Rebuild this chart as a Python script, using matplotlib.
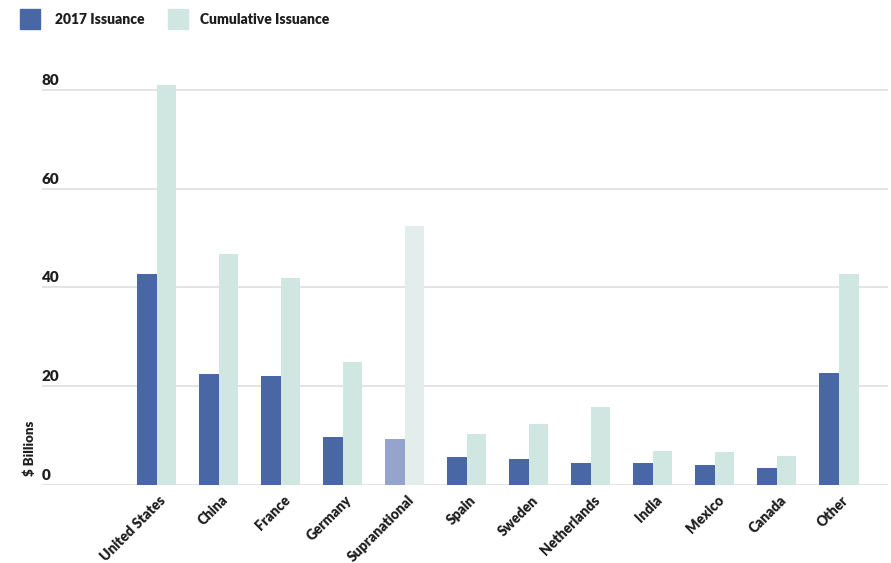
import numpy as np
import matplotlib
matplotlib.use('Agg')
import matplotlib.pyplot as plt
import matplotlib.transforms as mtransforms
from matplotlib.patches import Rectangle

plt.rcParams['font.family'] = ['Lato', 'DejaVu Sans']

# data ($ billions)
countries = ['United States', 'China', 'France', 'Germany', 'Supranational', 'Spain',
             'Sweden', 'Netherlands', 'India', 'Mexico', 'Canada', 'Other']
issuance_2017 = [42.7, 22.5, 22.0, 9.7, 9.3, 5.7, 5.3, 4.5, 4.5, 4.0, 3.4, 22.7]
cumulative = [81.0, 46.8, 41.8, 24.9, 52.4, 10.3, 12.3, 15.8, 6.9, 6.7, 5.9, 42.7]
yticks = [0, 20, 40, 60, 80]

dark = '#4a67a5'
light = '#cfe6e1'
dark_faded = '#94a4cc'
light_faded = '#e3eeec'
txt = '#1e1e1e'

x = np.arange(len(countries))
w = 0.315

fig = plt.figure(figsize=(8.91, 5.63), dpi=100)
ax = fig.add_axes([0.0471, 0.1385, 0.9495, 0.7460])

c_dark = [dark_faded if c == 'Supranational' else dark for c in countries]
c_light = [light_faded if c == 'Supranational' else light for c in countries]
ax.bar(x - w / 2, issuance_2017, w, color=c_dark, zorder=3)
ax.bar(x + w / 2, cumulative, w, color=c_light, zorder=3)

ax.set_xlim(-1.85, 11.79)
ax.set_ylim(0, 85)

# gridlines
for t in yticks:
    ax.axhline(t, color='#dcdcdc', lw=1.1, zorder=1)

# y labels sit above gridlines at left
trans = mtransforms.blended_transform_factory(ax.transAxes, ax.transData)
for t in yticks:
    ax.text(0.0, t + 0.6, str(t), transform=trans, ha='left', va='bottom',
            fontsize=11, fontweight='heavy', color=txt)

ax.set_yticks([])
ax.set_xticks(x + 0.04)
ax.set_xticklabels(countries, rotation=45, ha='right', va='top',
                   rotation_mode='anchor', fontsize=10, fontweight='heavy', color=txt)
ax.tick_params(axis='x', length=0, pad=6)
for s in ax.spines.values():
    s.set_visible(False)

fig.text(30 / 891, 1 - 448 / 563, '$ Billions', rotation=90, ha='center', va='center',
         fontsize=9.5, fontweight='heavy', color=txt)

# legend
fig.patches.append(Rectangle((20 / 891, 1 - 29 / 563), 20 / 891, 20 / 563,
                             transform=fig.transFigure, color=dark, figure=fig))
fig.text(55 / 891, 1 - 19 / 563, '2017 Issuance', ha='left', va='center',
         fontsize=10, fontweight='heavy', color=txt)
fig.patches.append(Rectangle((168 / 891, 1 - 29 / 563), 20 / 891, 20 / 563,
                             transform=fig.transFigure, color=light, figure=fig))
fig.text(200 / 891, 1 - 19 / 563, 'Cumulative Issuance', ha='left', va='center',
         fontsize=10, fontweight='heavy', color=txt)

fig.savefig('out.png', dpi=100)
